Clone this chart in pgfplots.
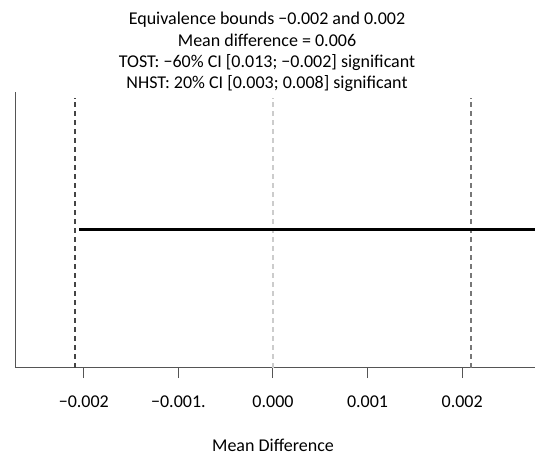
\documentclass[border=0pt]{standalone}
\usepackage{fontspec}
\setmainfont{Carlito}
\usepackage{pgfplots}
\pgfplotsset{compat=1.18}
\definecolor{axisgray}{HTML}{555555}
\definecolor{bounddark}{HTML}{444444}
\definecolor{boundmid}{HTML}{777777}
\definecolor{zerogray}{HTML}{CCCCCC}

\begin{document}
\begin{tikzpicture}
  \path[use as bounding box] (-16pt,-89pt) rectangle (519pt,368pt);
  \begin{axis}[
    scale only axis,
    width=519pt,
    height=276pt,
    xmin=-0.002717, xmax=0.002770,
    ymin=0, ymax=1,
    axis x line*=bottom,
    axis y line*=left,
    axis line style={-, color=axisgray, line width=1pt},
    ytick=\empty,
    xtick={-0.002,-0.001,0,0.001,0.002},
    xticklabels={−0.002,−0.001.,0.000,0.001,0.002},
    scaled x ticks=false,
    xtick align=outside,
    major tick length=10pt,
    xtick style={draw=axisgray, line width=1pt},
    xticklabel style={font=\fontsize{18}{21}\selectfont, anchor=base, yshift=-29pt},
    clip mode=individual,
  ]
    % equivalence bounds and zero line
    \addplot[bounddark, line width=1.1pt, dash pattern=on 4.5pt off 4.5pt] coordinates {(-0.002093,0) (-0.002093,0.98)};
    \addplot[boundmid, line width=1.1pt, dash pattern=on 4.5pt off 4.5pt] coordinates {(0.002093,0) (0.002093,0.98)};
    \addplot[zerogray, line width=1.1pt, dash pattern=on 4.5pt off 4.5pt] coordinates {(0,0) (0,0.98)};
    % confidence interval
    \addplot[black, line width=3.5pt] coordinates {(-0.00205,0.5025) (0.004,0.5025)};
    % tick marks hanging below the axis line
    \pgfplotsinvokeforeach{-0.002,-0.001,0,0.001,0.002}{
      \draw[axisgray, line width=1pt] (axis cs:#1,0) -- ++(0pt,-10pt);
    }
  \end{axis}
  \begin{scope}[every node/.style={font=\fontsize{18}{21}\selectfont, anchor=base, inner sep=0pt}]
    \node at (251pt,343pt) {Equivalence bounds −0.002 and 0.002};
    \node at (251pt,321pt) {Mean difference = 0.006};
    \node at (251pt,300pt) {TOST: −60\% CI [0.013; −0.002] significant};
    \node at (251pt,279pt) {NHST: 20\% CI [0.003; 0.008] significant};
    \node at (257pt,-84pt) {Mean Difference};
  \end{scope}
\end{tikzpicture}
\end{document}
